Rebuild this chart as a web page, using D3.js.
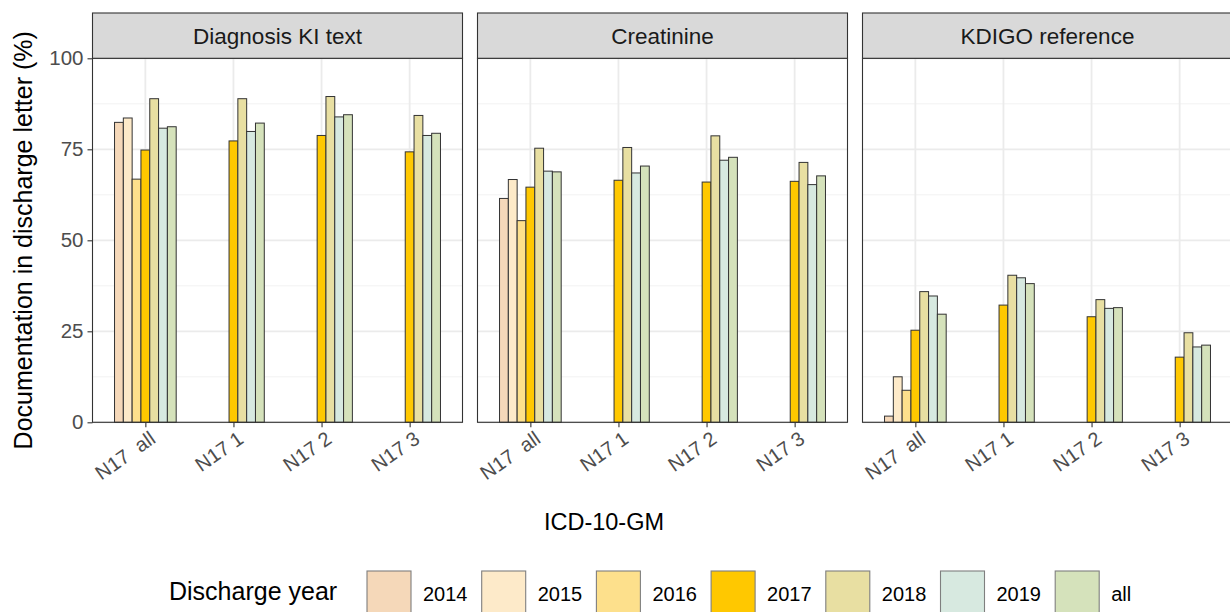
<!DOCTYPE html>
<html>
<head>
<meta charset="utf-8">
<script src="https://cdn.jsdelivr.net/npm/d3@7"></script>
<style>
  html, body { margin: 0; padding: 0; background: #ffffff; }
  svg { display: block; font-family: "Liberation Sans", Arial, sans-serif; }
</style>
</head>
<body>
<svg id="chart" width="1230" height="612"></svg>
<script>
// ---------- data ----------
const panels = ["Diagnosis KI text", "Creatinine", "KDIGO reference"];
const categories = ["N17  all", "N17 1", "N17 2", "N17 3"];
const years = ["2014", "2015", "2016", "2017", "2018", "2019", "all"];
const yearColors = ["#F5D8B9", "#FDEAC9", "#FDE08C", "#FFC800", "#E8DFA2", "#D7E9E0", "#D5E2BB"];
const yTicks = [0, 25, 50, 75, 100];
const yMinor = [12.5, 37.5, 62.5, 87.5];

// rows = categories, columns = years (null = not available)
const diagnosisValues = [
  [82.4, 83.6, 66.8, 74.8, 88.9, 80.8, 81.2],
  [null, null, null, 77.3, 88.9, 79.9, 82.2],
  [null, null, null, 78.8, 89.5, 83.9, 84.5],
  [null, null, null, 74.3, 84.3, 78.8, 79.4]
];
const creatinineValues = [
  [61.5, 66.7, 55.4, 64.6, 75.3, 69.0, 68.8],
  [null, null, null, 66.5, 75.5, 68.5, 70.4],
  [null, null, null, 66.0, 78.7, 72.0, 72.8],
  [null, null, null, 66.2, 71.4, 65.3, 67.7]
];
const kdigoValues = [
  [1.7, 12.5, 8.8, 25.3, 35.9, 34.7, 29.7],
  [null, null, null, 32.2, 40.4, 39.7, 38.1],
  [null, null, null, 29.0, 33.7, 31.3, 31.5],
  [null, null, null, 17.9, 24.6, 20.7, 21.2]
];
const panelValues = [diagnosisValues, creatinineValues, kdigoValues];

// ---------- layout ----------
const svg = d3.select("#chart");
const panelW = 370, panelGap = 15, firstLeft = 92.5;
const stripTop = 13, plotTop = 58.3, plotBottom = 422.3;

const y = d3.scaleLinear().domain([0, 100]).range([plotBottom, plotTop]);
const x = d3.scalePoint().domain(categories).range([0, panelW]).padding(0.6);
const step = x.step();
const xSub = d3.scaleBand().domain(years).range([-0.35 * step, 0.35 * step]).padding(0);
const color = d3.scaleOrdinal().domain(years).range(yearColors);

panels.forEach((name, pi) => {
  const left = firstLeft + pi * (panelW + panelGap);
  const g = svg.append("g").attr("transform", `translate(${left},0)`);

  g.append("rect").attr("x", 0).attr("y", plotTop).attr("width", panelW)
    .attr("height", plotBottom - plotTop).attr("fill", "#ffffff");

  g.selectAll(".minor").data(yMinor).enter().append("line")
    .attr("x1", 0).attr("x2", panelW)
    .attr("y1", d => y(d)).attr("y2", d => y(d))
    .attr("stroke", "#F2F2F2").attr("stroke-width", 1);
  g.selectAll(".major").data(yTicks).enter().append("line")
    .attr("x1", 0).attr("x2", panelW)
    .attr("y1", d => y(d)).attr("y2", d => y(d))
    .attr("stroke", "#EBEBEB").attr("stroke-width", 1.8);
  g.selectAll(".vmajor").data(categories).enter().append("line")
    .attr("x1", d => x(d)).attr("x2", d => x(d))
    .attr("y1", plotTop).attr("y2", plotBottom)
    .attr("stroke", "#EBEBEB").attr("stroke-width", 1.8);

  const vals = panelValues[pi];
  const barData = [];
  categories.forEach((c, ci) => {
    years.forEach((yr, yi) => {
      const v = vals[ci][yi];
      if (v !== null) barData.push({ c, yr, v });
    });
  });
  g.selectAll(".bar").data(barData).enter().append("rect")
    .attr("x", d => x(d.c) + xSub(d.yr))
    .attr("width", xSub.bandwidth())
    .attr("y", d => y(d.v))
    .attr("height", d => y(0) - y(d.v))
    .attr("fill", d => color(d.yr))
    .attr("stroke", "#333333").attr("stroke-width", 1);

  g.append("rect").attr("x", 0).attr("y", plotTop).attr("width", panelW)
    .attr("height", plotBottom - plotTop).attr("fill", "none")
    .attr("stroke", "#333333").attr("stroke-width", 1.1);

  g.append("rect").attr("x", 0).attr("y", stripTop).attr("width", panelW)
    .attr("height", plotTop - stripTop).attr("fill", "#D9D9D9")
    .attr("stroke", "#333333").attr("stroke-width", 1.1);
  g.append("text").attr("x", panelW / 2).attr("y", (stripTop + plotTop) / 2)
    .attr("dy", "0.36em").attr("text-anchor", "middle")
    .attr("font-size", 22.5).attr("fill", "#1A1A1A").text(name);

  const xAxis = g.append("g").attr("transform", `translate(0,${plotBottom})`)
    .call(d3.axisBottom(x).tickSize(5).tickPadding(0));
  xAxis.select(".domain").remove();
  xAxis.selectAll(".tick line").attr("stroke", "#333333").attr("stroke-width", 1.1);
  xAxis.selectAll(".tick text")
    .attr("fill", "#4D4D4D").attr("font-size", 20)
    .attr("text-anchor", "end")
    .attr("y", 0).attr("dy", 0)
    .attr("transform", "translate(3,8) rotate(-35) translate(0,14)")
    .style("white-space", "pre");

  if (pi === 0) {
    const yAxis = g.append("g")
      .call(d3.axisLeft(y).tickValues(yTicks).tickSize(5).tickPadding(4));
    yAxis.select(".domain").remove();
    yAxis.selectAll(".tick line").attr("stroke", "#333333").attr("stroke-width", 1.1);
    yAxis.selectAll(".tick text").attr("fill", "#4D4D4D").attr("font-size", 20.5);
  }
});

svg.selectAll(".tick text").attr("font-family", "'Liberation Sans', Arial, sans-serif");

svg.append("text")
  .attr("transform", `translate(32,${(plotTop + plotBottom) / 2}) rotate(-90)`)
  .attr("text-anchor", "middle").attr("font-size", 25).attr("fill", "#000000")
  .text("Documentation in discharge letter (%)");
svg.append("text").attr("x", 604).attr("y", 530)
  .attr("text-anchor", "middle").attr("font-size", 23.5).attr("fill", "#000000")
  .text("ICD-10-GM");

const legend = svg.append("g");
legend.append("text").attr("x", 169).attr("y", 600)
  .attr("font-size", 25).attr("fill", "#000000").text("Discharge year");
const keyStep = 114.7, keyX0 = 367, keyY = 571, keySize = 44;
years.forEach((yr, i) => {
  legend.append("rect").attr("x", keyX0 + i * keyStep).attr("y", keyY)
    .attr("width", keySize).attr("height", keySize)
    .attr("fill", color(yr)).attr("stroke", "#7F7F7F").attr("stroke-width", 1.1);
  legend.append("text").attr("x", keyX0 + i * keyStep + 56).attr("y", 600.5)
    .attr("font-size", 20).attr("fill", "#000000").text(yr);
});
</script>
</body>
</html>
